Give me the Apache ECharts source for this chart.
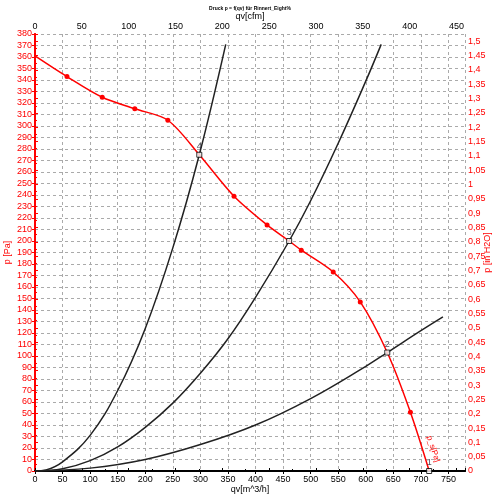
<!DOCTYPE html>
<html>
<head>
<meta charset="utf-8">
<script src="https://cdn.jsdelivr.net/npm/echarts@6/dist/echarts.min.js"></script>
<style>
  html, body { margin: 0; padding: 0; background: #fff; }
  #chart { width: 500px; height: 500px; }
</style>
</head>
<body>
<div id="chart"></div>
<script>
// fan curve p_s = f(qv), qv in m^3/h, p in Pa
const fanQv = [0, 58, 122, 181, 241, 298, 361, 421, 461, 483, 541, 590, 639, 681, 715];
const fanP = [361, 343, 325, 315, 305, 275, 239, 214, 200, 192, 173, 147, 103, 51, 0];
// which fan points carry a red dot
const fanDot = [0, 1, 1, 1, 1, 0, 1, 1, 0, 1, 1, 1, 0, 1, 0];

// system curves
const sys4Qv = [0, 20, 50, 100, 150, 200, 250, 298, 346];
const sys4P = [0, 1, 8, 31, 70, 124, 194, 275, 371];
const sys3Qv = [0, 50, 100, 150, 200, 250, 300, 350, 400, 461, 500, 550, 600, 628];
const sys3P = [0, 2, 9, 21, 38, 59, 85, 115, 151, 200, 235, 285, 339, 371];
const sys2Qv = [0, 100, 200, 300, 400, 500, 600, 639, 700, 740];
const sys2P = [0, 2.5, 10, 23, 40, 63, 91, 103, 122, 134];

// operating points
const opLabels = ['4', '3', '2', '1'];
const opQv = [298, 461, 639, 715];
const opP = [275, 200, 103, 0];

const qvMax = 780;            // m^3/h
const cfmMax = qvMax * 0.5886; // top axis in cfm
const pMax = 380;             // Pa
const inH2OMax = pMax / 249.0889;

const chart = echarts.init(document.getElementById('chart'));

const pair = (xs, ys) => xs.map((x, i) => [x, ys[i]]);

const fanData = fanQv.map((q, i) => ({
  value: [q, fanP[i]],
  symbolSize: fanDot[i] ? 5 : 0
}));
fanData[fanData.length - 1].label = {
  show: true,
  formatter: 'p_s[Pa]',
  rotate: -72,
  color: '#ff0000',
  fontSize: 8,
  offset: [-15, -5]
};

const commaFmt = v => String(+(+v).toFixed(2)).replace('.', ',');

chart.setOption({
  animation: false,
  title: {
    text: 'Druck p = f(qv) für Rinnert_Eight%',
    left: 'center',
    top: 1,
    textStyle: { fontSize: 5, color: '#000', fontWeight: 'bold', fontFamily: 'Liberation Sans' }
  },
  grid: { left: 35, right: 35, top: 34, bottom: 29, outerBoundsMode: 'none' },
  xAxis: [
    {
      type: 'value', position: 'bottom', min: 0, max: qvMax, interval: 50,
      name: 'qv[m^3/h]', nameLocation: 'middle', nameGap: 14, nameMoveOverlap: false,
      nameTextStyle: { fontSize: 9, color: '#000', fontFamily: 'Liberation Sans' },
      axisLine: { lineStyle: { color: '#000', width: 2 } },
      axisTick: { lineStyle: { color: '#000' }, length: 3 },
      axisLabel: { fontSize: 9, color: '#000', margin: 4, showMaxLabel: false, fontFamily: 'Liberation Sans' },
      splitLine: { show: true, lineStyle: { color: '#aaa', type: [3, 3], width: 1 } }
    },
    {
      type: 'value', position: 'top', min: 0, max: cfmMax, interval: 50,
      name: 'qv[cfm]', nameLocation: 'middle', nameGap: 13, nameMoveOverlap: false,
      nameTextStyle: { fontSize: 9, color: '#000', fontFamily: 'Liberation Sans' },
      axisLine: { lineStyle: { color: '#000', width: 2 } },
      axisTick: { lineStyle: { color: '#000' }, length: 3 },
      minorTick: { show: true, splitNumber: 2, length: 2, lineStyle: { color: '#000' } },
      axisLabel: { fontSize: 9, color: '#000', margin: 3, showMaxLabel: false, fontFamily: 'Liberation Sans' },
      splitLine: { show: false }
    }
  ],
  yAxis: [
    {
      type: 'value', position: 'left', min: 0, max: pMax, interval: 10,
      name: 'p [Pa]', nameLocation: 'middle', nameGap: 22.5, nameMoveOverlap: false,
      nameTextStyle: { fontSize: 9, color: '#ff0000', fontFamily: 'Liberation Sans' },
      axisLine: { show: true, lineStyle: { color: '#ff0000', width: 2 } },
      axisTick: { show: true, lineStyle: { color: '#ff0000' }, length: 3 },
      axisLabel: { fontSize: 9, color: '#ff0000', margin: 3, fontFamily: 'Liberation Sans' },
      splitLine: { show: true, lineStyle: { color: '#aaa', type: [3, 3], width: 1 } }
    },
    {
      type: 'value', position: 'right', min: 0, max: inH2OMax, interval: 0.05,
      name: 'p [in H2O]', nameLocation: 'middle', nameGap: 18.5, nameMoveOverlap: false,
      nameRotate: 90,
      nameTextStyle: { fontSize: 9, color: '#ff0000', fontFamily: 'Liberation Sans' },
      axisLine: { show: true, lineStyle: { color: '#ff0000', width: 2 } },
      axisTick: { show: true, lineStyle: { color: '#ff0000' }, length: 3 },
      minorTick: { show: true, splitNumber: 2, length: 2, lineStyle: { color: '#ff0000' } },
      axisLabel: { fontSize: 9, color: '#ff0000', margin: 3, showMaxLabel: false, formatter: commaFmt, fontFamily: 'Liberation Sans' },
      splitLine: { show: false }
    }
  ],
  series: [
    {
      type: 'line', xAxisIndex: 0, yAxisIndex: 0, smooth: 0.4, symbol: 'none',
      lineStyle: { color: '#222', width: 1.5 }, data: pair(sys4Qv, sys4P)
    },
    {
      type: 'line', xAxisIndex: 0, yAxisIndex: 0, smooth: 0.4, symbol: 'none',
      lineStyle: { color: '#222', width: 1.5 }, data: pair(sys3Qv, sys3P)
    },
    {
      type: 'line', xAxisIndex: 0, yAxisIndex: 0, smooth: 0.4, symbol: 'none',
      lineStyle: { color: '#222', width: 1.5 }, data: pair(sys2Qv, sys2P)
    },
    {
      type: 'line', xAxisIndex: 0, yAxisIndex: 0, smooth: 0.3,
      symbol: 'circle', showAllSymbol: true,
      itemStyle: { color: '#ff0000' },
      lineStyle: { color: '#ff0000', width: 1.5 },
      data: fanData, z: 3
    },
    {
      type: 'scatter', xAxisIndex: 0, yAxisIndex: 0, symbol: 'rect', symbolSize: 5,
      itemStyle: { color: '#fff', borderColor: '#000', borderWidth: 1 },
      label: {
        show: true, position: 'top', distance: 1, fontSize: 9, color: '#223',
        formatter: p => opLabels[p.dataIndex]
      },
      data: pair(opQv, opP), z: 4
    }
  ]
});
</script>
</body>
</html>
